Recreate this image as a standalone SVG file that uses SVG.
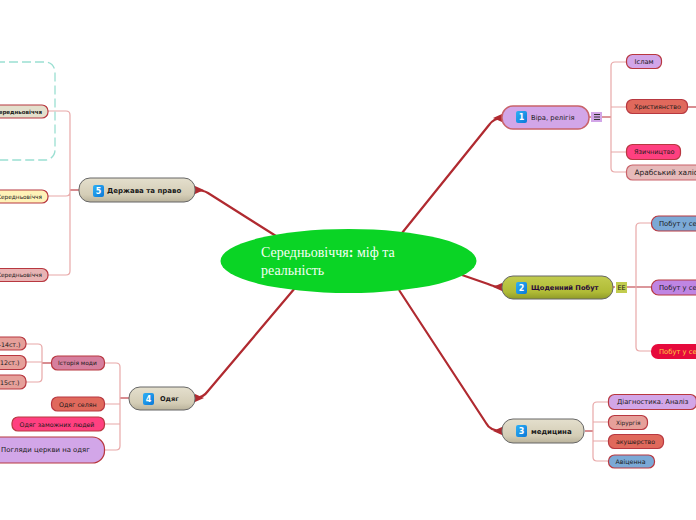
<svg xmlns="http://www.w3.org/2000/svg" width="696" height="520" viewBox="0 0 696 520">
<defs>
<linearGradient id="beige" x1="0" y1="0" x2="0" y2="1"><stop offset="0" stop-color="#e4dfcd"/><stop offset="0.7" stop-color="#d4cdb6"/><stop offset="1" stop-color="#b9b29b"/></linearGradient>
<linearGradient id="olive" x1="0" y1="0" x2="0" y2="1"><stop offset="0" stop-color="#c2cc4e"/><stop offset="0.7" stop-color="#b0bb36"/><stop offset="1" stop-color="#8f9a28"/></linearGradient>
<linearGradient id="blue" x1="0" y1="0" x2="1" y2="1"><stop offset="0" stop-color="#2fb0f5"/><stop offset="1" stop-color="#0a78d8"/></linearGradient>
<marker id="ah" markerUnits="userSpaceOnUse" markerWidth="10" markerHeight="10" refX="9" refY="5" orient="auto"><path d="M0 5L9 1V9Z" fill="#b02a30"/></marker>
</defs>
<style>
text{font-family:"DejaVu Sans","Liberation Sans",sans-serif;fill:#1a1a1a;dominant-baseline:central}
.t7{font-size:6.8px}.t6{font-size:6px}.t8{font-size:7px;font-weight:bold}
.main{fill:none;stroke:#b02a30;stroke-width:2.2}
.b{fill:none;stroke:#e8a8a8;stroke-width:1.2}
.s{fill:none;stroke:#b83038;stroke-width:1.1}
.n{stroke:#b83840;stroke-width:1.2}
.topic{stroke:#666;stroke-width:1}
.ic{fill:url(#blue)}
.ict{fill:#fff;font-size:8px;font-weight:bold;text-anchor:middle}
</style>
<g id="connectors">
<path class="main" marker-end="url(#ah)" d="M402 233L489 125Q494 118 502 118"/>
<path class="main" marker-end="url(#ah)" d="M462 275L488 284Q494 287 502 287"/>
<path class="main" marker-end="url(#ah)" d="M399 290L486 423Q490 431 502 431"/>
<path class="main" marker-end="url(#ah)" d="M295 288L208 391Q203 398 195 398"/>
<path class="main" marker-end="url(#ah)" d="M276 236L208 193Q203 190 195 190"/>
<path class="s" d="M589 117H591M602 117H611"/>
<path class="b" d="M626 62H615Q611 62 611 66V168Q611 172 615 172H626M611 107H626M611 152H626"/>
<path class="s" d="M688 107H696"/>
<path class="s" d="M613 287H615M627 287H651"/>
<path class="b" d="M651 223H640Q636 223 636 227V347Q636 351 640 351H651"/>
<path class="s" d="M585 431H593"/>
<path class="b" d="M608 402H597Q593 402 593 406V457Q593 461 597 461H608M593 422H608M593 441H608"/>
<path class="s" d="M79 190H70"/>
<path class="b" d="M48 111H66Q70 111 70 115V271Q70 275 66 275H48M48 196H66Q70 196 70 192"/>
<path class="s" d="M129 398H120"/>
<path class="b" d="M104 363H116Q120 363 120 367V446Q120 450 116 450H104M104 404H120M104 424H120"/>
<path class="s" d="M51 363H42"/>
<path class="b" d="M26 344H38Q42 344 42 348V378Q42 382 38 382H26M26 362H42"/>
</g>
<g id="dashed-area"><rect x="-40" y="62" width="95" height="98" rx="10" fill="none" stroke="#9adfd2" stroke-width="1.3" stroke-dasharray="9 4"/></g>
<g id="root"><ellipse cx="348.500" cy="261" rx="128" ry="32" fill="#0ad425"/>
<text x="261" y="252" style="font-family:'Liberation Serif',serif;font-size:14px;fill:#f4fff4">Середньовіччя<tspan font-weight="bold">:</tspan> міф та</text>
<text x="261" y="270" style="font-family:'Liberation Serif',serif;font-size:14px;fill:#f4fff4">реальність</text></g>
<g id="n1"><rect class="n" style="stroke:#c9636a;stroke-width:1.5" x="502" y="106" width="87" height="23" rx="11" fill="#d2a6e8"/><rect class="ic" x="516" y="111" width="11" height="12" rx="2"/><text class="ict" x="521.500" y="117">1</text><text class="t7" x="531" y="117.500">Віра, релігія</text>
<rect x="591" y="112" width="11" height="10" fill="#d2a6e8"/><path d="M594 114.500H600M594 117H600M594 119.500H600" stroke="#333" stroke-width="1"/></g>
<g id="n1a"><rect class="n" x="626.500" y="54.500" width="35" height="14" rx="6" fill="#d2a6e8"/><text class="t7" x="634.500" y="61.500" style="font-size:6.7px">Іслам</text></g>
<g id="n1b"><rect class="n" x="626.500" y="99.500" width="61" height="14" rx="6" fill="#e0695c"/><text class="t7" x="634" y="106.500" style="font-size:6.4px">Християнство</text></g>
<g id="n1c"><rect class="n" x="626.500" y="144.500" width="54" height="15" rx="6" fill="#ff4080"/><text class="t7" x="634" y="151.500" style="font-size:6.5px">Язичництво</text></g>
<g id="n1d"><rect class="n" style="stroke:#c9636a" x="626.500" y="165" width="85" height="15" rx="6" fill="#e6baba"/><text class="t7" x="634.500" y="172.500" style="font-size:7.4px">Арабський халіфат</text></g>
<g id="n2"><rect class="topic" x="502" y="276" width="111" height="23" rx="11" fill="url(#olive)"/><rect class="ic" x="516" y="282" width="11" height="12" rx="2"/><text class="ict" x="521.500" y="288">2</text><text class="t8" x="531" y="287.500" style="fill:#2a0a3a;font-size:6.7px">Щоденний Побут</text>
<rect x="616" y="282" width="11" height="11" fill="#c2cc4e"/><text x="621.500" y="287.500" text-anchor="middle" style="font-size:6.5px">EE</text></g>
<g id="n2a"><rect class="n" x="651.500" y="216" width="80" height="15" rx="7" fill="#7ba9d6"/><text class="t7" x="659" y="223.500">Побут у селі</text></g>
<g id="n2b"><rect class="n" x="651.500" y="280" width="80" height="15" rx="7" fill="#bf85e3"/><text class="t7" x="659" y="287.500">Побут у селі</text></g>
<g id="n2c"><rect x="651" y="344" width="80" height="15" rx="7" fill="#e60a3c"/><text class="t7" x="659" y="351.500" style="fill:#ffd040">Побут у середні</text></g>
<g id="n3"><rect class="topic" x="502" y="419" width="82" height="24" rx="11" fill="url(#beige)"/><rect class="ic" x="516" y="425" width="11" height="12" rx="2"/><text class="ict" x="521.500" y="431">3</text><text class="t8" x="531" y="431.500">медицина</text></g>
<g id="n3a"><rect class="n" x="608.500" y="394.500" width="88" height="15" rx="6" fill="#d2a6e8"/><text class="t7" x="617" y="402">Діагностика. Аналіз</text></g>
<g id="n3b"><rect class="n" x="608.500" y="415.500" width="39" height="14" rx="6" fill="#e6a09a"/><text class="t6" x="616" y="422.500" style="font-size:5.8px">Хірургія</text></g>
<g id="n3c"><rect class="n" x="608.500" y="434.500" width="55" height="14" rx="6" fill="#e0695c"/><text class="t7" x="616" y="441.500" style="font-size:6.2px">акушерство</text></g>
<g id="n3d"><rect class="n" x="608.500" y="455" width="46" height="13" rx="6" fill="#7ba9d6"/><text class="t6" x="615.500" y="461.500" style="font-size:6.3px">Авіценна</text></g>
<g id="n4"><rect class="topic" x="129" y="387" width="66" height="23" rx="11" fill="url(#beige)"/><rect class="ic" x="143" y="393" width="11" height="12" rx="2"/><text class="ict" x="148.500" y="399">4</text><text class="t8" x="160" y="398.500" style="font-size:6.6px">Одяг</text></g>
<g id="n4a"><rect class="n" style="stroke:#b83840" x="51.500" y="356" width="53" height="14" rx="6" fill="#d67f9e"/><text class="t6" x="58" y="363" style="font-size:5.9px">Історія моди</text></g>
<g id="n4a1"><rect class="n" x="-40" y="337" width="66" height="13" rx="6" fill="#e6a09a"/><text class="t6" x="20.500" y="344" text-anchor="end" style="font-size:6.3px">(11-14ст.)</text></g>
<g id="n4a2"><rect class="n" x="-40" y="355.500" width="66" height="14" rx="6" fill="#e6a09a"/><text class="t6" x="19.500" y="362.500" text-anchor="end" style="font-size:6.3px">12ст.)</text></g>
<g id="n4a3"><rect class="n" x="-40" y="375" width="66" height="14" rx="6" fill="#e6a09a"/><text class="t6" x="19.500" y="382" text-anchor="end" style="font-size:6.3px">15ст.)</text></g>
<g id="n4b"><rect class="n" x="51.500" y="397" width="53" height="14" rx="6" fill="#e0695c"/><text class="t7" x="59" y="404" style="font-size:6.3px">Одяг селян</text></g>
<g id="n4c"><rect class="n" x="12" y="417" width="92.500" height="14" rx="6" fill="#ff4080"/><text class="t7" x="19.500" y="424" style="font-size:6.25px">Одяг заможних людей</text></g>
<g id="n4d"><rect class="n" x="-40" y="437" width="144.500" height="26" rx="12" fill="#d2a6e8"/><text class="t7" x="1" y="450" style="font-size:6.9px">Погляди церкви на одяг</text></g>
<g id="n5"><rect class="topic" x="79" y="178" width="116" height="24" rx="11" fill="url(#beige)"/><rect class="ic" x="93" y="185" width="11" height="12" rx="2"/><text class="ict" x="98.500" y="191">5</text><text class="t8" x="107" y="190.500">Держава та право</text></g>
<g id="n5a"><rect class="n" x="-40" y="105" width="88" height="13" rx="6" fill="#e3dfcc"/><text class="t6" x="42" y="111.500" text-anchor="end" style="font-size:5.5px" font-weight="bold">Середньовіччя</text></g>
<g id="n5b"><rect class="n" x="-40" y="190" width="88" height="13" rx="6" fill="#fff2b8"/><text class="t6" x="42" y="196.500" text-anchor="end" style="font-size:5.8px">Середньовіччя</text></g>
<g id="n5c"><rect class="n" x="-40" y="268.500" width="88" height="13" rx="6" fill="#e8b4b4"/><text class="t6" x="42" y="275" text-anchor="end" style="font-size:5.8px">Середньовіччя</text></g>
</svg>
